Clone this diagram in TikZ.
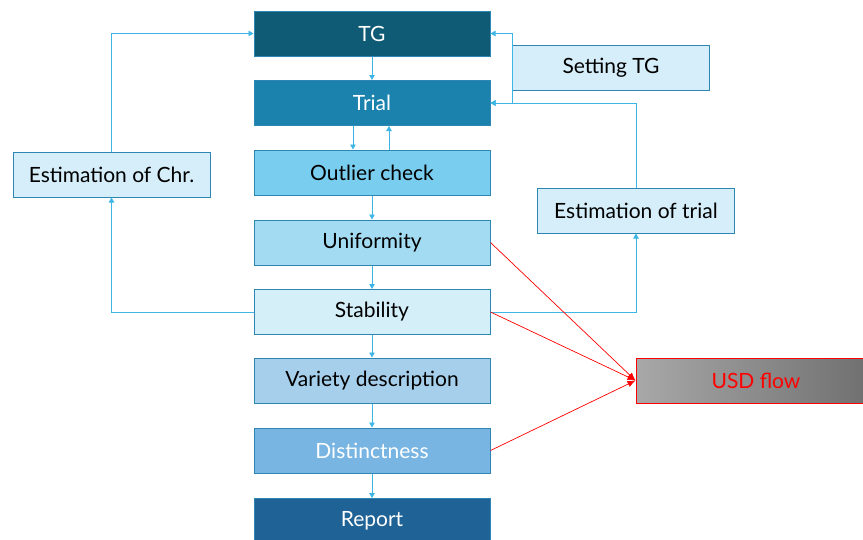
\documentclass[tikz,border=0pt]{standalone}
\usepackage{fontspec}
\setmainfont{Lato}
\usetikzlibrary{arrows.meta}
\definecolor{cTG}{HTML}{0F5A74}
\definecolor{cTrial}{HTML}{1B82AD}
\definecolor{cOut}{HTML}{79CDEE}
\definecolor{cUnif}{HTML}{A3DCF2}
\definecolor{cStab}{HTML}{D5EFF9}
\definecolor{cVar}{HTML}{A6CFEC}
\definecolor{cDist}{HTML}{78B5E2}
\definecolor{cRep}{HTML}{1F6295}
\definecolor{cSide}{HTML}{D5EEF9}
\definecolor{bordc}{HTML}{2E86B2}
\definecolor{connc}{HTML}{3DB6E6}
\definecolor{usdL}{HTML}{A8A8A8}
\definecolor{usdR}{HTML}{6E6E6E}
\begin{document}
\begin{tikzpicture}[x=1pt,y=-1pt,
  box/.style={draw=bordc, line width=1pt, minimum width=236pt, minimum height=45pt, inner sep=0pt, font=\fontsize{21}{24}\selectfont},
  sidebox/.style={box, fill=cSide, minimum width=197pt},
  conn/.style={draw=connc, line width=0.9pt, -{Triangle[length=5pt,width=5.5pt]}},
  redconn/.style={draw=red, line width=0.7pt, -{Latex[length=8pt,width=6.5pt]}}]
\useasboundingbox (0,0) rectangle (863,539);
% main column
\node[box, fill=cTG, text=white] (tg) at (372,33.5) {TG};
\node[box, fill=cTrial, text=white] (trial) at (372,103) {Trial};
\node[box, fill=cOut] (outl) at (372,172.5) {Outlier check};
\node[box, fill=cUnif] (unif) at (372,242.5) {Uniformity};
\node[box, fill=cStab] (stab) at (372,312) {Stability};
\node[box, fill=cVar] (var) at (372,380.5) {Variety description};
\node[box, fill=cDist, text=white] (dist) at (372,450.5) {Distinctness};
\node[box, fill=cRep, text=white] (rep) at (372,521) {Report};
% side boxes
\node[sidebox] (estchr) at (111.5,174.5) {Estimation of Chr.};
\node[sidebox] (settg) at (611,67.5) {Setting TG};
\node[sidebox] (esttr) at (636,210.5) {Estimation of trial};
\node[box, draw=red, left color=usdL, right color=usdR, text=red, minimum width=240pt] (usd) at (756,380.5) {USD flow};
% vertical flow
\draw[conn] (tg) -- (trial);
\draw[conn] ([xshift=-19pt]trial.south) -- ([xshift=-19pt]outl.north);
\draw[conn] ([xshift=17pt]outl.north) -- ([xshift=17pt]trial.south);
\draw[conn] (outl) -- (unif);
\draw[conn] (unif) -- (stab);
\draw[conn] (stab) -- (var);
\draw[conn] (var) -- (dist);
\draw[conn] (dist) -- (rep);
% loops
\draw[conn] (stab.west) -| (estchr.south);
\draw[conn] (estchr.north) |- (tg.west);
\draw[conn] (stab.east) -| (esttr.south);
\draw[conn] (esttr.north) |- (trial.east);
\draw[conn] (settg.west) |- (tg.east);
\draw[conn] (settg.west) |- (trial.east);
% red
\draw[redconn] (unif.east) -- (usd.west);
\draw[redconn] (stab.east) -- (usd.west);
\draw[redconn] (dist.east) -- (usd.west);
\end{tikzpicture}
\end{document}
